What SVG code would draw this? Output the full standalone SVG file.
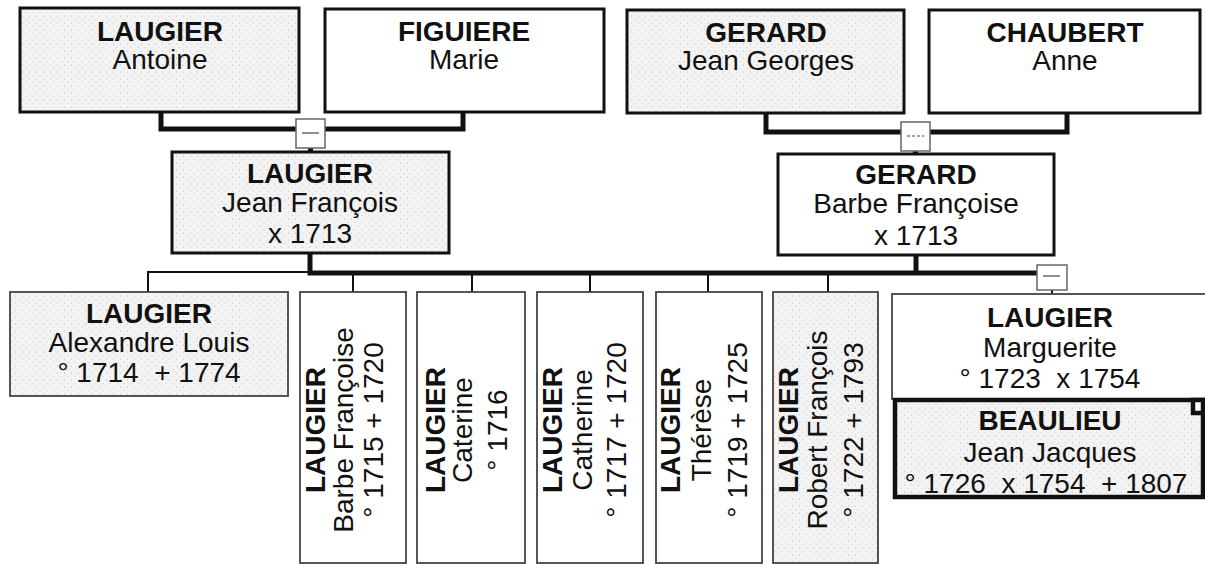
<svg xmlns="http://www.w3.org/2000/svg" width="1205" height="564" viewBox="0 0 1205 564">
<defs>
<pattern id="st" width="7" height="7" patternUnits="userSpaceOnUse">
<rect width="7" height="7" fill="#f3f3f3"/>
<circle cx="1.5" cy="2" r="0.6" fill="#b5b5b5"/>
<circle cx="5" cy="5.5" r="0.5" fill="#c5c5c5"/>
</pattern>
</defs>
<style>
.box{stroke:#111;stroke-width:3}
.kid{stroke:#444;stroke-width:1.8}
.big{stroke:#111;stroke-width:4.5}
.g{fill:url(#st)}
.w{fill:#fff}
text{font-family:"Liberation Sans",Arial,Helvetica,sans-serif;font-size:28px;fill:#111;text-anchor:middle}
.b{font-weight:bold}
.thick{stroke:#111;stroke-width:5;fill:none}
.thin{stroke:#111;stroke-width:2;fill:none}
.mk{fill:#fff;stroke:#666;stroke-width:1.5}
.mn{stroke:#444;stroke-width:1.2}
</style>

<g id="connectors">
<path class="thick" d="M161 112 V129 H296"/>
<path class="thick" d="M325 129 H463 V112"/>
<path class="thick" d="M310.5 148 V152"/>
<path class="thick" d="M766 113 V132 H901"/>
<path class="thick" d="M930 132 H1067 V113"/>
<path class="thick" d="M915.5 151 V154"/>
<path class="thick" d="M310 253 V273 H1037"/>
<path class="thick" d="M916 255 V273"/>
<path class="thin" d="M148 292 V272 H310"/>
<path class="thin" d="M353 273 V292"/>
<path class="thin" d="M472 273 V292"/>
<path class="thin" d="M590 273 V292"/>
<path class="thin" d="M708 273 V292"/>
<path class="thin" d="M828 273 V292"/>
<path class="thin" d="M1052 290 V294"/>
<rect class="mk" x="296" y="119" width="29" height="29"/>
<line class="mn" x1="302" y1="133" x2="319" y2="133"/>
<rect class="mk" x="901" y="122" width="29" height="29"/>
<line class="mn" x1="907" y1="136" x2="924" y2="136" stroke-dasharray="3 2"/>
<rect class="mk" x="1037" y="265" width="30" height="25"/>
<line class="mn" x1="1043" y1="276" x2="1060" y2="276"/>
</g>

<g id="n-antoine">
<rect class="box g" x="20" y="8" width="279" height="104"/>
<text class="b" x="160" y="41">LAUGIER</text>
<text x="160" y="69">Antoine</text>
</g>
<g id="n-marie">
<rect class="box w" x="325" y="9" width="279" height="103"/>
<text class="b" x="464" y="41">FIGUIERE</text>
<text x="464" y="69">Marie</text>
</g>
<g id="n-jeangeorges">
<rect class="box g" x="627" y="10" width="277" height="103"/>
<text class="b" x="766" y="42">GERARD</text>
<text x="766" y="70">Jean Georges</text>
</g>
<g id="n-anne">
<rect class="box w" x="929" y="10" width="271" height="103"/>
<text class="b" x="1065" y="42">CHAUBERT</text>
<text x="1065" y="70">Anne</text>
</g>

<g id="n-jeanfrancois">
<rect class="box g" x="172" y="152" width="277" height="101"/>
<text class="b" x="310" y="183">LAUGIER</text>
<text x="310" y="212">Jean François</text>
<text x="310" y="243">x 1713</text>
</g>
<g id="n-barbefrancoise">
<rect class="box w" x="778" y="154" width="276" height="101"/>
<text class="b" x="916" y="184">GERARD</text>
<text x="916" y="213">Barbe Françoise</text>
<text x="916" y="245">x 1713</text>
</g>

<g id="n-alexandre">
<rect class="kid g" x="10" y="292" width="278" height="104"/>
<text class="b" x="149" y="323">LAUGIER</text>
<text x="149" y="352">Alexandre Louis</text>
<text x="149" y="382" xml:space="preserve">° 1714  + 1774</text>
</g>
<g id="n-barbe">
<rect class="kid w" x="300" y="292" width="106" height="271"/>
<text class="b" x="325" y="430" transform="rotate(-90 325 430)">LAUGIER</text>
<text x="353" y="430" transform="rotate(-90 353 430)">Barbe Françoise</text>
<text x="383" y="430" transform="rotate(-90 383 430)">° 1715 + 1720</text>
</g>
<g id="n-caterine">
<rect class="kid w" x="417" y="292" width="108" height="271"/>
<text class="b" x="445" y="430" transform="rotate(-90 445 430)">LAUGIER</text>
<text x="472" y="430" transform="rotate(-90 472 430)">Caterine</text>
<text x="507" y="430" transform="rotate(-90 507 430)">° 1716</text>
</g>
<g id="n-catherine">
<rect class="kid w" x="537" y="292" width="106" height="271"/>
<text class="b" x="562" y="430" transform="rotate(-90 562 430)">LAUGIER</text>
<text x="592" y="430" transform="rotate(-90 592 430)">Catherine</text>
<text x="626" y="430" transform="rotate(-90 626 430)">° 1717 + 1720</text>
</g>
<g id="n-therese">
<rect class="kid w" x="656" y="292" width="106" height="271"/>
<text class="b" x="680" y="430" transform="rotate(-90 680 430)">LAUGIER</text>
<text x="711" y="430" transform="rotate(-90 711 430)">Thérèse</text>
<text x="747" y="430" transform="rotate(-90 747 430)">° 1719 + 1725</text>
</g>
<g id="n-robert">
<rect class="kid g" x="773" y="292" width="105" height="271"/>
<text class="b" x="798" y="430" transform="rotate(-90 798 430)">LAUGIER</text>
<text x="827" y="430" transform="rotate(-90 827 430)">Robert François</text>
<text x="863" y="430" transform="rotate(-90 863 430)">° 1722 + 1793</text>
</g>
<g id="n-marguerite">
<rect class="kid w" x="892" y="294" width="316" height="105"/>
<text class="b" x="1050" y="327">LAUGIER</text>
<text x="1050" y="357">Marguerite</text>
<text x="1050" y="388" xml:space="preserve">° 1723  x 1754</text>
</g>
<g id="n-beaulieu">
<rect class="big g" x="895" y="400" width="308" height="97"/>
<rect class="big w" x="1193" y="400" width="10" height="13"/>
<text class="b" x="1050" y="430">BEAULIEU</text>
<text x="1050" y="462">Jean Jacques</text>
<text x="1046" y="493" xml:space="preserve">° 1726  x 1754  + 1807</text>
</g>
</svg>
